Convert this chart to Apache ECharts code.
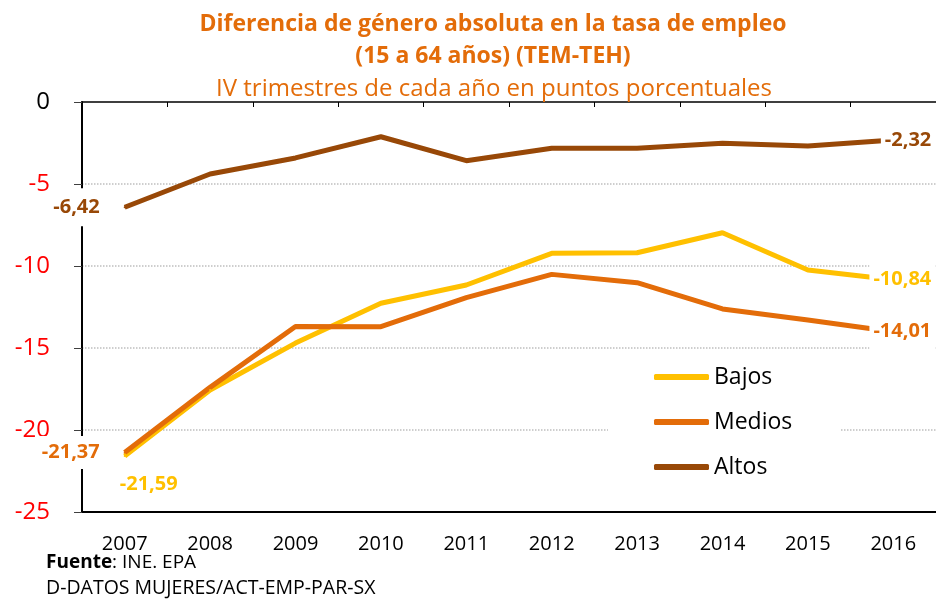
<!DOCTYPE html>
<html>
<head>
<meta charset="utf-8">
<script src="https://cdn.jsdelivr.net/npm/echarts@6/dist/echarts.min.js"></script>
<style>
html, body { margin: 0; padding: 0; background: #fff; }
#chart { width: 936px; height: 601px; }
</style>
</head>
<body>
<div id="chart"></div>
<script>
// Diferencia de género en la tasa de empleo, por nivel de formación.
var years = ['2007', '2008', '2009', '2010', '2011', '2012', '2013', '2014', '2015', '2016'];
var seriesNames = ['Bajos', 'Medios', 'Altos'];
// puntos porcentuales (TEM-TEH)
var bajos = [-21.59, -17.56, -14.7, -12.27, -11.16, -9.23, -9.19, -7.97, -10.24, -10.84];
var medios = [-21.37, -17.4, -13.69, -13.7, -11.93, -10.51, -11.02, -12.62, -13.29, -14.01];
var altos = [-6.42, -4.39, -3.41, -2.12, -3.58, -2.82, -2.82, -2.52, -2.68, -2.32];
var colores = ['#FFC000', '#E36C09', '#984807'];

var fuente = 'Open Sans';
var naranja = '#E36C09';

var fmt = function(v) {
	return v.toFixed(2).replace('.', ',');
};

// solo el primer y el ultimo punto llevan etiqueta
var buildData = function(values, color, firstLabel) {
	return values.map(function(v, i) {
		var item = { value: v };
		var base = {
			show: true,
			formatter: function(p) { return fmt(p.value); },
			color: color,
			fontFamily: fuente,
			fontWeight: 'bold',
			fontSize: 20,
			backgroundColor: '#fff',
			padding: [9, 4, 9, 4]
		};
		if (i === 0) {
			item.label = Object.assign(base, firstLabel);
		} else if (i === values.length - 1) {
			item.label = Object.assign(base, { position: 'right', align: 'right', distance: 41 });
		}
		return item;
	});
};

var chart = echarts.init(document.getElementById('chart'));

var makeSeries = function(idx, values, firstLabel) {
	return {
		name: seriesNames[idx],
		type: 'line',
		data: buildData(values, colores[idx], firstLabel),
		symbol: 'circle',
		symbolSize: 2,
		showSymbol: true,
		color: colores[idx],
		itemStyle: { color: colores[idx], borderWidth: 0 },
		lineStyle: { width: 5, color: colores[idx] },
		emphasis: { disabled: true },
		animation: false
	};
};

var option = {
	animation: false,
	title: [
		{
			text: 'Diferencia de género absoluta en la tasa de empleo\n(15 a 64 años) (TEM-TEH)',
			left: 488,
			top: 3,
			textAlign: 'center',
			textStyle: { color: naranja, fontFamily: fuente, fontWeight: 'bold', fontSize: 23, lineHeight: 32 }
		},
		{
			text: 'IV trimestres de cada año en puntos porcentuales',
			left: 489,
			top: 72,
			textAlign: 'center',
			textStyle: { color: naranja, fontFamily: fuente, fontWeight: 'normal', fontSize: 24 }
		}
	],
	grid: { left: 82, right: -1, top: 102, bottom: 89 },
	legend: {
		data: seriesNames,
		orient: 'vertical',
		left: 608,
		top: 353,
		padding: [12, 48, 12, 46],
		backgroundColor: '#fff',
		itemWidth: 55,
		itemHeight: 6,
		itemGap: 21,
		icon: 'roundRect',
		textStyle: { fontSize: 23, fontFamily: fuente, color: '#000', lineHeight: 24 }
	},
	xAxis: [
		{
			type: 'category',
			data: years,
			position: 'top',
			boundaryGap: true,
			axisLine: { lineStyle: { color: '#000', width: 1.5 } },
			axisTick: { show: true, inside: true, length: 5, lineStyle: { color: '#000' } },
			axisLabel: { show: false }
		},
		{
			type: 'category',
			data: years,
			position: 'bottom',
			boundaryGap: true,
			axisLine: { lineStyle: { color: '#000', width: 2 } },
			axisTick: { show: false },
			axisLabel: { margin: 22, fontSize: 20, fontFamily: fuente, color: '#000' }
		}
	],
	yAxis: {
		type: 'value',
		min: -25,
		max: 0,
		interval: 5,
		axisLine: { show: true, lineStyle: { color: '#000', width: 2 } },
		axisTick: { show: true, length: 8, lineStyle: { color: '#404040' } },
		axisLabel: {
			margin: 32,
			fontSize: 24,
			fontFamily: fuente,
			color: function(v) { return Number(v) === 0 ? '#000' : '#FF0000'; }
		},
		splitLine: {
			show: true,
			showMinLine: false,
			showMaxLine: false,
			lineStyle: { color: '#BFBFBF', type: 'dotted', width: 1.5 }
		}
	},
	graphic: [
		{
			type: 'text',
			left: 46,
			top: 553,
			style: {
				text: '{b|Fuente}{n|: INE. EPA}',
				rich: {
					b: { fontWeight: 'bold', fontSize: 19, fontFamily: fuente, fill: '#000' },
					n: { fontWeight: 'normal', fontSize: 19, fontFamily: fuente, fill: '#000' }
				}
			}
		},
		{
			type: 'text',
			left: 46,
			top: 578,
			style: {
				text: '{n|D-DATOS MUJERES/ACT-EMP-PAR-SX}',
				rich: { n: { fontWeight: 'normal', fontSize: 19.5, fontFamily: fuente, fill: '#000' } }
			}
		}
	],
	series: [
		makeSeries(0, bajos, { position: 'bottom', distance: 8, offset: [24, 0] }),
		makeSeries(1, medios, { position: 'left', distance: 20, padding: [4, 4, 9, 4] }),
		makeSeries(2, altos, { position: 'left', distance: 20 })
	]
};

option && chart.setOption(option);
</script>
</body>
</html>
